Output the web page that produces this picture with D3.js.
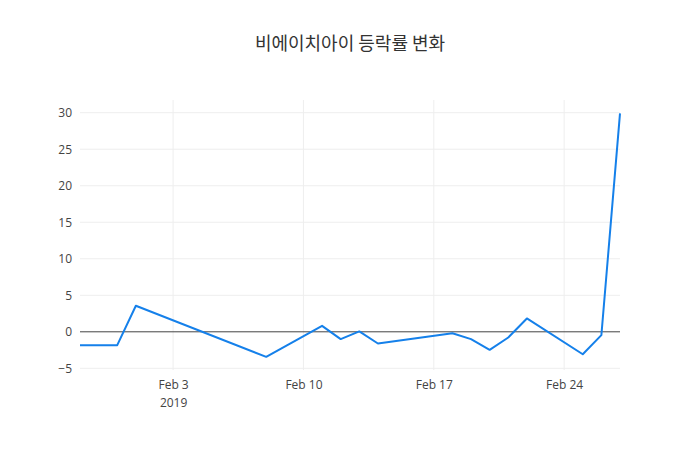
<!DOCTYPE html>
<html>
<head>
<meta charset="utf-8">
<script src="https://cdn.jsdelivr.net/npm/d3@7"></script>
<style>
  body { margin: 0; background: #fff; }
  svg { display: block; font-family: "Open Sans", "Noto Sans CJK KR", sans-serif; }
</style>
</head>
<body>
<svg id="chart" width="700" height="450"></svg>
<script>
const title = "비에이치아이 등락률 변화";
const dates = ["2019-01-29","2019-01-31","2019-02-01","2019-02-08","2019-02-11","2019-02-12","2019-02-13","2019-02-14","2019-02-18","2019-02-19","2019-02-20","2019-02-21","2019-02-22","2019-02-25","2019-02-26","2019-02-27"];
const values = [-1.83, -1.83, 3.57, -3.43, 0.82, -1.0, 0.05, -1.6, -0.2, -1.0, -2.47, -0.78, 1.83, -3.07, -0.46, 29.9];
const yTicks = [-5, 0, 5, 10, 15, 20, 25, 30];
const xTicks = ["2019-02-03","2019-02-10","2019-02-17","2019-02-24"];

const W = 700, H = 450, m = {l: 80, r: 80, t: 100, b: 80};
const svg = d3.select("#chart");
const parse = d3.utcParse("%Y-%m-%d");
const data = dates.map((d, i) => ({date: parse(d), v: values[i]}));

const x = d3.scaleUtc().domain(d3.extent(data, d => d.date)).range([m.l, W - m.r]);
const y = d3.scaleLinear().domain([-5.23, 31.74]).range([H - m.b, m.t]);

// grid
const g = svg.append("g");
g.selectAll(".vg").data(xTicks.map(parse)).join("line")
  .attr("x1", d => x(d)).attr("x2", d => x(d))
  .attr("y1", m.t).attr("y2", H - m.b)
  .attr("stroke", "#eee").attr("stroke-width", 1);
g.selectAll(".hg").data(yTicks.filter(t => t !== 0)).join("line")
  .attr("x1", m.l).attr("x2", W - m.r)
  .attr("y1", d => y(d)).attr("y2", d => y(d))
  .attr("stroke", "#eee").attr("stroke-width", 1);

// y axis labels
const yAxis = d3.axisLeft(y).tickValues(yTicks).tickSize(0).tickPadding(8)
  .tickFormat(d => d < 0 ? "\u2212" + Math.abs(d) : d);
const ya = svg.append("g").attr("transform", `translate(${m.l},0)`).call(yAxis);
ya.select(".domain").remove();
ya.selectAll("text").attr("fill", "#444").style("font-size", "12px").style("font-family", "'Open Sans', sans-serif");

// x axis labels
const xAxis = d3.axisBottom(x).tickValues(xTicks.map(parse)).tickSize(0).tickPadding(10)
  .tickFormat(d3.utcFormat("%b %-d"));
const xa = svg.append("g").attr("transform", `translate(0,${H - m.b})`).call(xAxis);
xa.select(".domain").remove();
xa.selectAll("text").attr("fill", "#444").style("font-size", "12px").style("font-family", "'Open Sans', sans-serif");
xa.selectAll(".tick").filter((d, i) => i === 0).append("text")
  .attr("y", 28).attr("dy", "0.71em").attr("fill", "#444")
  .attr("text-anchor", "middle")
  .style("font-size", "12px").style("font-family", "'Open Sans', sans-serif")
  .text("2019");

// zero line
svg.append("line")
  .attr("x1", m.l).attr("x2", W - m.r)
  .attr("y1", y(0)).attr("y2", y(0))
  .attr("stroke", "#444").attr("stroke-width", 1);

// line
const line = d3.line().x(d => x(d.date)).y(d => y(d.v));
svg.append("path").datum(data)
  .attr("d", line)
  .attr("fill", "none")
  .attr("stroke", "#1580ea")
  .attr("stroke-width", 2)
  .attr("stroke-linejoin", "round");

// title
svg.append("text")
  .attr("x", W / 2).attr("y", 50)
  .attr("text-anchor", "middle")
  .attr("fill", "#333")
  .style("font-size", "18px")
  .style("font-family", "'Noto Sans CJK KR', 'Open Sans', sans-serif")
  .text(title);
</script>
</body>
</html>
